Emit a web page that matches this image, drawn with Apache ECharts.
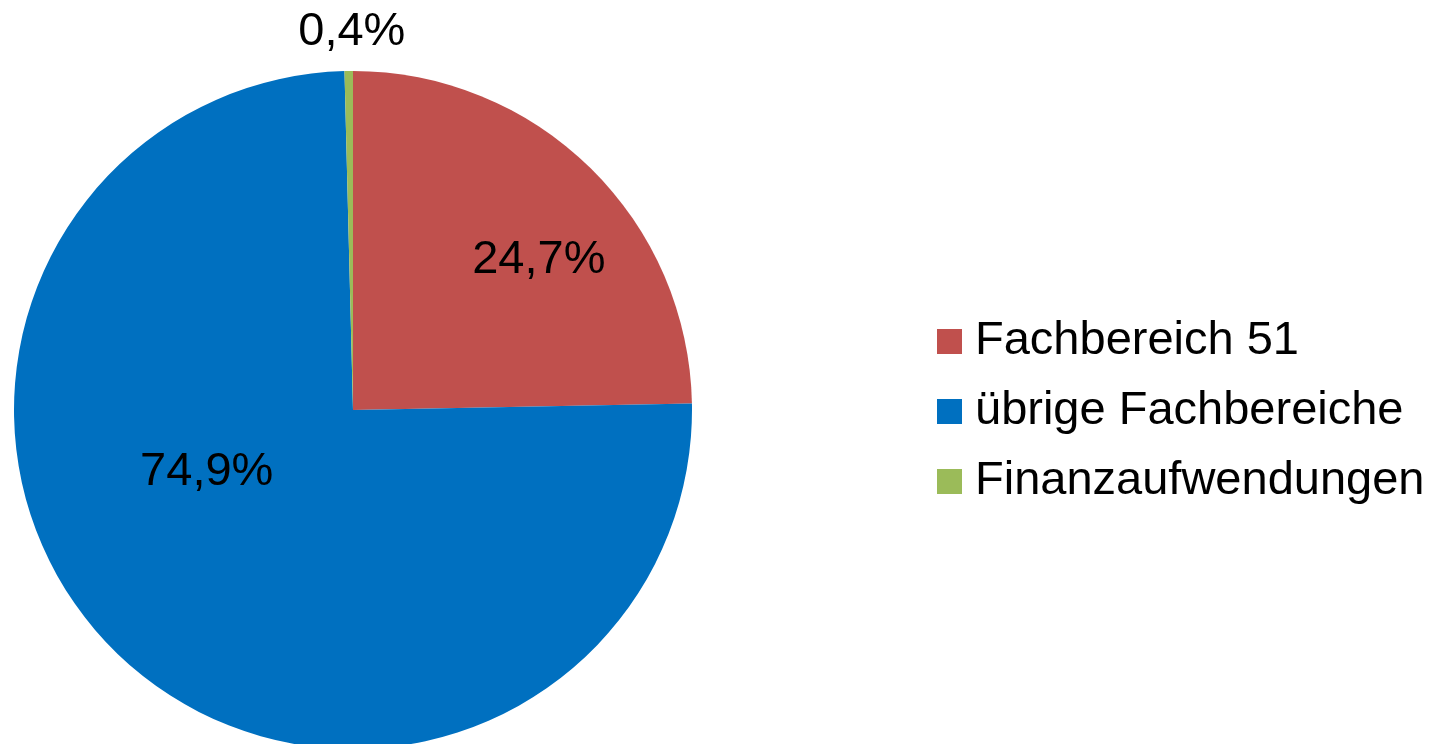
<!DOCTYPE html>
<html>
<head>
<meta charset="utf-8">
<script src="https://cdn.jsdelivr.net/npm/echarts@6/dist/echarts.min.js"></script>
<style>
html,body{margin:0;padding:0;background:#fff;}
#chart{width:1438px;height:744px;}
</style>
</head>
<body>
<div id="chart"></div>
<script>
const categories = ['Fachbereich 51', 'übrige Fachbereiche', 'Finanzaufwendungen'];
const values = [24.7, 74.9, 0.4];
const colors = ['#C0504D', '#0070C0', '#9BBB59'];
const labelOffsets = [[65, -27], [-27, -63], [1, -205]];

const chart = echarts.init(document.getElementById('chart'), null, {renderer: 'canvas'});
const font = '"Liberation Sans", Arial, sans-serif';
chart.setOption({
  animation: false,
  backgroundColor: '#ffffff',
  legend: {
    orient: 'vertical',
    left: 937,
    top: 318,
    padding: 0,
    itemWidth: 25,
    itemHeight: 25,
    itemGap: 23,
    icon: 'rect',
    data: categories,
    textStyle: {fontFamily: font, fontSize: 47, lineHeight: 46, color: '#000', padding: [0, 0, 0, 8]}
  },
  series: [{
    type: 'pie',
    center: [353, 410],
    radius: [0, 339],
    startAngle: 90,
    clockwise: true,
    itemStyle: {borderWidth: 0},
    emphasis: {disabled: true},
    labelLine: {show: false},
    label: {
      show: true,
      position: 'inside',
      fontFamily: font,
      fontSize: 47,
      color: '#000',
      formatter: p => String(p.value).replace('.', ',') + '%'
    },
    data: categories.map((c, i) => ({
      name: c,
      value: values[i],
      itemStyle: {color: colors[i]},
      label: {offset: labelOffsets[i]}
    }))
  }]
});
</script>
</body>
</html>
